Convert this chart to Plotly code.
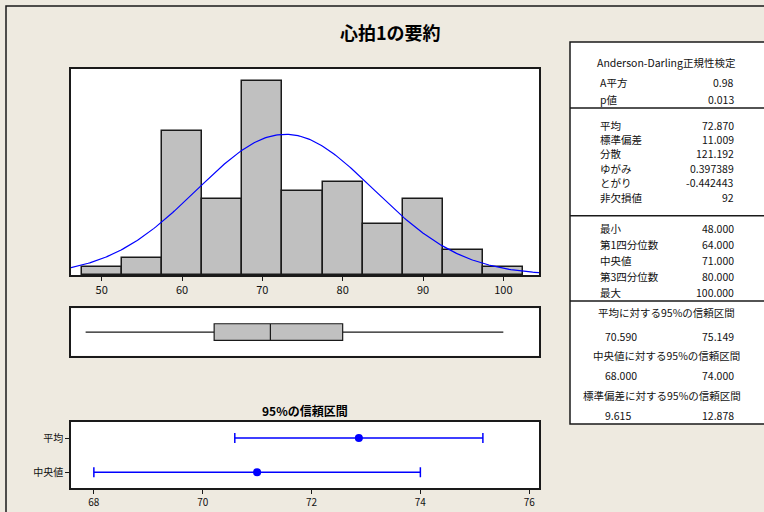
import numpy as np
import plotly.graph_objects as go

# ---------------- data ----------------
bin_centers = [50, 55, 60, 65, 70, 75, 80, 85, 90, 95, 100]
bin_counts = [1, 2, 17, 9, 23, 10, 11, 6, 9, 3, 1]
bin_width = 5

mean_val = 72.870
sd_val = 11.009
n_val = 92

min_val = 48.0
q1_val = 64.0
median_val = 71.0
q3_val = 80.0
max_val = 100.0

ci_labels = ["平均", "中央値"]
ci_centers = [72.870, 71.0]
ci_lows = [70.590, 68.000]
ci_highs = [75.149, 74.000]

title_text = "心拍1の要約"
ci_title = "95%の信頼区間"

ad_header = "Anderson-Darling正規性検定"
block1_labels = ["A平方", "p値"]
block1_values = ["0.98", "0.013"]
block2_labels = ["平均", "標準偏差", "分散", "ゆがみ", "とがり", "非欠損値"]
block2_values = ["72.870", "11.009", "121.192", "0.397389", "-0.442443", "92"]
block3_labels = ["最小", "第1四分位数", "中央値", "第3四分位数", "最大"]
block3_values = ["48.000", "64.000", "71.000", "80.000", "100.000"]
ci_headers = ["平均に対する95%の信頼区間", "中央値に対する95%の信頼区間", "標準偏差に対する95%の信頼区間"]
ci_table_low = ["70.590", "68.000", "9.615"]
ci_table_high = ["75.149", "74.000", "12.878"]

hist_ticks = [50, 60, 70, 80, 90, 100]
ci_ticks = [68, 70, 72, 74, 76]

# ---------------- layout helpers ----------------
W, H = 764, 512
FONT = "Noto Sans CJK JP"
TXT = "#111111"
BG = "#EEEAE0"
TS = 10.5


def px(x):
    return x / W


def py(y):
    return 1 - y / H


fig = go.Figure()

# histogram bars
fig.add_trace(go.Bar(
    x=bin_centers, y=bin_counts, width=[bin_width] * len(bin_centers),
    marker=dict(color="#C0C0C0", line=dict(color="#1a1a1a", width=1.5)),
    xaxis="x", yaxis="y", showlegend=False, hoverinfo="x+y"))

# fitted normal curve
hx_range = [46.18, 104.44]
xs = np.linspace(hx_range[0], hx_range[1], 300)
ys = n_val * bin_width / (sd_val * np.sqrt(2 * np.pi)) * np.exp(-0.5 * ((xs - mean_val) / sd_val) ** 2)
fig.add_trace(go.Scatter(x=xs, y=ys, mode="lines", line=dict(color="#0000FF", width=1.2),
                         xaxis="x", yaxis="y", showlegend=False, hoverinfo="skip"))

# boxplot
fig.add_trace(go.Box(
    x0=0, y=[0], q1=[q1_val], median=[median_val], q3=[q3_val],
    lowerfence=[min_val], upperfence=[max_val], orientation="h",
    fillcolor="#C0C0C0", line=dict(color="#1a1a1a", width=1.2),
    whiskerwidth=0, width=0.7, xaxis="x2", yaxis="y2", showlegend=False, boxpoints=False))

# CI intervals
ci_y = [1, 0]
fig.add_trace(go.Scatter(
    x=ci_centers, y=ci_y, mode="markers",
    marker=dict(color="#0000FF", size=8),
    error_x=dict(type="data", symmetric=False,
                 array=[h - c for h, c in zip(ci_highs, ci_centers)],
                 arrayminus=[c - l for c, l in zip(ci_centers, ci_lows)],
                 color="#0000FF", thickness=1.5, width=5),
    xaxis="x3", yaxis="y3", showlegend=False))

axis_common = dict(showline=True, linecolor="#1a1a1a", linewidth=1.5, mirror=True,
                   showgrid=False, zeroline=False)

fig.update_layout(
    width=W, height=H, margin=dict(l=0, r=0, t=0, b=0),
    paper_bgcolor=BG, plot_bgcolor="white",
    font=dict(family=FONT, size=11, color=TXT),
    bargap=0,
    xaxis=dict(domain=[px(71), px(539)], range=hx_range, anchor="y",
               tickvals=hist_ticks, ticks="outside", ticklen=4, tickcolor="#1a1a1a",
               tickfont=dict(size=11), **axis_common),
    yaxis=dict(domain=[py(275), py(69)], range=[0, 24.4], anchor="x",
               showticklabels=False, ticks="", **axis_common),
    xaxis2=dict(domain=[px(71), px(539)], range=hx_range, anchor="y2",
                showticklabels=False, ticks="", **axis_common),
    yaxis2=dict(domain=[py(355.7), py(308.4)], range=[-1, 1], anchor="x2",
                showticklabels=False, ticks="", **axis_common),
    xaxis3=dict(domain=[px(71), px(539)], range=[67.58, 76.18], anchor="y3",
                tickvals=ci_ticks, ticks="outside", ticklen=4, tickcolor="#1a1a1a",
                tickfont=dict(size=10), **axis_common),
    yaxis3=dict(domain=[py(488), py(421.6)], range=[-0.46, 1.48], anchor="x3",
                tickvals=ci_y, ticktext=ci_labels, ticks="outside", ticklen=4,
                tickcolor="#1a1a1a", tickfont=dict(size=10), **axis_common),
)

shapes = []
# outer frame (left/top visible)
shapes.append(dict(type="rect", xref="paper", yref="paper",
                   x0=px(6), y0=py(520), x1=px(780), y1=py(6),
                   line=dict(color="#1a1a1a", width=1.5), layer="below"))
# table box
shapes.append(dict(type="rect", xref="paper", yref="paper",
                   x0=px(570), y0=py(424), x1=px(780), y1=py(42),
                   line=dict(color="#1a1a1a", width=1.5), fillcolor="white", layer="below"))
for ysep in [108, 215.7, 301]:
    shapes.append(dict(type="line", xref="paper", yref="paper",
                       x0=px(570), x1=px(780), y0=py(ysep), y1=py(ysep),
                       line=dict(color="#1a1a1a", width=1.5)))
fig.update_layout(shapes=shapes)

ann = []
ann.append(dict(x=px(390), y=py(31.5), xref="paper", yref="paper", text="<b>" + title_text + "</b>",
                showarrow=False, font=dict(size=18, color="#000000", family=FONT),
                xanchor="center", yanchor="middle"))
ann.append(dict(x=px(304.5), y=py(410.5), xref="paper", yref="paper", text="<b>" + ci_title + "</b>",
                showarrow=False, font=dict(size=12, color="#000000", family=FONT),
                xanchor="center", yanchor="middle"))

LABX, VALX, CENX = 598, 736, 666


def row(label, value, y):
    ann.append(dict(x=px(LABX), y=py(y), xref="paper", yref="paper", text=label,
                    showarrow=False, xanchor="left", yanchor="middle", font=dict(size=TS)))
    ann.append(dict(x=px(VALX), y=py(y), xref="paper", yref="paper", text=value,
                    showarrow=False, xanchor="right", yanchor="middle", font=dict(size=TS)))


def center(text, y, x=CENX):
    ann.append(dict(x=px(x), y=py(y), xref="paper", yref="paper", text=text,
                    showarrow=False, xanchor="center", yanchor="middle", font=dict(size=TS)))


center(ad_header, 62.3)
for lab, val, y in zip(block1_labels, block1_values, [82.7, 99.3]):
    row(lab, val, y)
for lab, val, y in zip(block2_labels, block2_values, [125, 139.3, 153.7, 168.3, 182.7, 197.3]):
    row(lab, val, y)
for lab, val, y in zip(block3_labels, block3_values, [228.3, 244.3, 260.5, 276.5, 292.5]):
    row(lab, val, y)
for hdr, lo, hi, yh, yv in zip(ci_headers, ci_table_low, ci_table_high,
                                [312.7, 355.0, 395.7], [336.0, 375.7, 415.7]):
    center(hdr, yh, x=666 if "標準" not in hdr else 662)
    ann.append(dict(x=px(603), y=py(yv), xref="paper", yref="paper", text=lo,
                    showarrow=False, xanchor="left", yanchor="middle", font=dict(size=TS)))
    ann.append(dict(x=px(VALX), y=py(yv), xref="paper", yref="paper", text=hi,
                    showarrow=False, xanchor="right", yanchor="middle", font=dict(size=TS)))

fig.update_layout(annotations=ann)

fig.write_html("out.html", config={"displayModeBar": False},
               post_script="document.body.style.margin='0px';")
